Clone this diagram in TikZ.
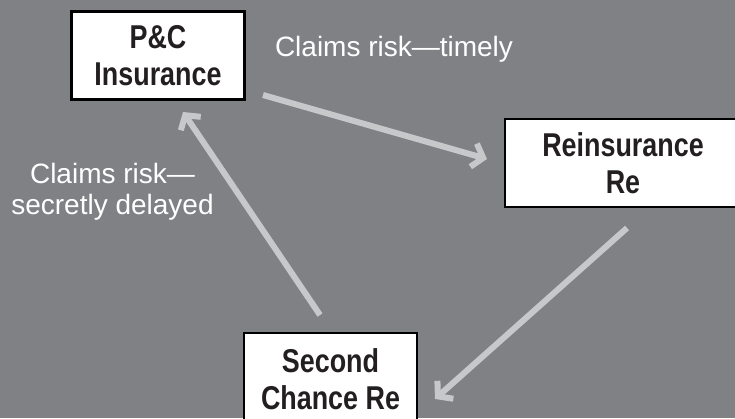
\documentclass[tikz,border=0pt]{standalone}
\usepackage{fontspec}
\setmainfont{Liberation Sans}
\newfontfamily\firmfont[FakeStretch=0.815]{Liberation Sans}
\usetikzlibrary{arrows.meta}
\definecolor{bggray}{RGB}{128,129,133}
\definecolor{flowgray}{RGB}{199,200,202}
\definecolor{firmtext}{RGB}{35,31,32}

\begin{document}
\begin{tikzpicture}[x=1pt,y=-1pt,
        firm/.style={draw=black, line width=2.5pt, fill=white, text=firmtext, align=center, inner sep=0pt,
            font=\firmfont\bfseries\fontsize{33}{37.5}\selectfont},
        flow/.style={draw=flowgray, line width=6pt, -{Straight Barb[length=10pt,width=24pt]}},
        risk/.style={text=white, align=center, inner sep=0pt, font=\fontsize{28}{31}\selectfont}]
        \useasboundingbox (0,0) rectangle (735,418);
        \clip (0,0) rectangle (735,418);
        \fill[bggray] (0,0) rectangle (735,418);
        
        \node[firm, minimum width=173pt, minimum height=88pt] (pc) at (158,55.5) {P\&C\\Insurance};
        \node[firm, minimum width=236pt, minimum height=88pt] (re) at (623,163) {Reinsurance\\Re};
        \node[firm, minimum width=173pt, minimum height=92pt] (sc) at (330.5,379) {Second\\Chance Re};
        
        \coordinate (pc-out) at (263,95);
        \coordinate (re-in) at (487,159);
        \coordinate (re-out) at (627,228);
        \coordinate (sc-in) at (435,399);
        \coordinate (sc-out) at (320,315);
        \coordinate (pc-in) at (183,112);
        
        \draw[flow] (pc-out) -- (re-in);
        \draw[flow] (re-out) -- (sc-in);
        \draw[flow] (sc-out) -- (pc-in);
        
        \node[risk, anchor=base] (timely) at (394,56) {Claims risk---timely};
        \node[risk] (delayed) at (112.5,192) {Claims risk---\\secretly delayed};
        
    \end{tikzpicture}
\end{document}
